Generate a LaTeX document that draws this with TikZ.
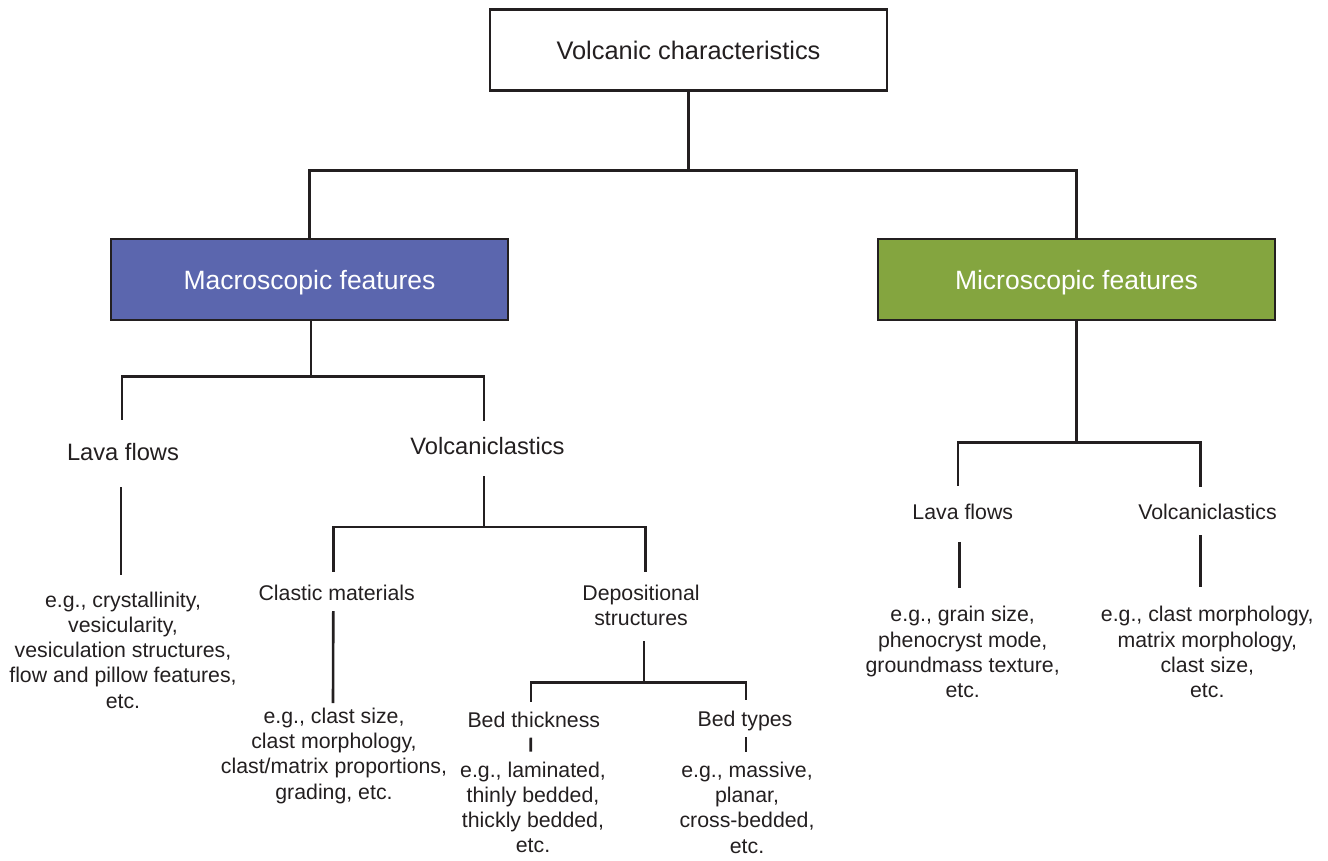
\documentclass[tikz,border=0pt]{standalone}
\usepackage{fontspec}
\setmainfont{Liberation Sans}
\definecolor{macroblue}{HTML}{5B66AE}
\definecolor{microgreen}{HTML}{84A53F}
\definecolor{inkgrey}{HTML}{231F20}
\tikzset{
  branch/.style={draw=inkgrey, line width=2.6pt},
  hbox/.style={draw=inkgrey, line width=2.7pt, minimum width=397pt, minimum height=81pt,
    inner sep=0pt, text height=19pt, text depth=0pt},
  lblM/.style={anchor=base, inner sep=0pt, text height=17pt, text depth=5pt,
    text=inkgrey, font=\fontsize{23.7}{28}\selectfont},
  lblS/.style={anchor=base, inner sep=0pt, text height=15.3pt, text depth=4.5pt,
    text=inkgrey, font=\fontsize{21.3}{25}\selectfont},
  eg/.style={anchor=north, inner sep=0pt, align=center, text=inkgrey,
    font=\fontsize{21.3}{25.3}\selectfont}
}
\begin{document}
\begin{tikzpicture}[x=1pt,y=-1pt]
  \useasboundingbox (0,0) rectangle (1328,860);
  % boxes
  \node[hbox, text height=18pt, text=inkgrey, font=\fontsize{25.4}{30}\selectfont] (vc) at (688.5,50) {Volcanic characteristics};
  \node[hbox, fill=macroblue, text=white, font=\fontsize{26.5}{31}\selectfont] (macro) at (309.5,279.5) {Macroscopic features};
  \node[hbox, fill=microgreen, text=white, font=\fontsize{26.5}{31}\selectfont] (micro) at (1076.5,279.5) {Microscopic features};

  % macroscopic side
  \node[lblM] (lfA) at (123,460) {Lava flows};
  \node[lblM] (vcA) at (487.5,454) {Volcaniclastics};
  \node[eg] (exA) at (123,591.4) {e.g., crystallinity,\\vesicularity,\\vesiculation structures,\\flow and pillow features,\\etc.};
  \node[lblS] (clA) at (336.7,600) {Clastic materials};
  \node[eg] (dsA) at (641,584.7) {Depositional\\structures};
  \node[eg] (exC) at (334,707.7) {e.g., clast size,\\clast morphology,\\clast/matrix proportions,\\grading, etc.};
  \node[lblS] (btA) at (533.8,727.3) {Bed thickness};
  \node[lblS] (byA) at (745,726) {Bed types};
  \node[eg] (exT) at (533,761.4) {e.g., laminated,\\thinly bedded,\\thickly bedded,\\etc.};
  \node[eg] (exY) at (747,761.7) {e.g., massive,\\planar,\\cross-bedded,\\etc.};

  % microscopic side
  \node[lblS] (lfB) at (962.8,519) {Lava flows};
  \node[lblS] (vcB) at (1207.5,519) {Volcaniclastics};
  \node[eg] (exL) at (962.7,606.2) {e.g., grain size,\\phenocryst mode,\\groundmass texture,\\etc.};
  \node[eg] (exV) at (1207.3,606.2) {e.g., clast morphology,\\matrix morphology,\\clast size,\\etc.};

  % branch points
  \coordinate (br0) at (688.5,170.5);
  \coordinate (br1) at (311,376.5);
  \coordinate (br2) at (484,527);
  \coordinate (br3) at (644,682.7);
  \coordinate (br4) at (1076.5,442.7);

  % connectors
  \draw[branch] (vc.south) -- (br0);
  \draw[branch] (macro.north) |- (br0) -| (micro.north);
  \draw[branch] ([xshift=1.5pt]macro.south) -- (br1);
  \draw[branch] ([xshift=-1pt,yshift=23pt]lfA.north) |- (br1) -| ([xshift=-3.5pt,yshift=16pt]vcA.north);
  \draw[branch] ([xshift=-2pt,yshift=-22pt]lfA.south) -- ([xshift=-2pt,yshift=16.4pt]exA.north);
  \draw[branch] ([xshift=-3.5pt,yshift=-17pt]vcA.south) -- (br2);
  \draw[branch] ([xshift=-3.4pt,yshift=12.7pt]clA.north) |- (br2) -| ([xshift=4.7pt,yshift=12.7pt]dsA.north);
  \draw[branch] ([xshift=-3.4pt,yshift=-6.5pt]clA.south) -- ([xshift=-1pt,yshift=4.7pt]exC.north);
  \draw[branch] ([xshift=3pt,yshift=-15pt]dsA.south) -- (br3);
  \draw[branch] ([xshift=-3pt,yshift=10.3pt]btA.north) |- (br3) -| ([xshift=1pt,yshift=10.7pt]byA.north);
  \draw[branch] ([xshift=-3pt,yshift=-5.5pt]btA.south) -- ([xshift=-2.3pt,yshift=9.7pt]exT.north);
  \draw[branch] ([xshift=1pt,yshift=-6.5pt]byA.south) -- ([xshift=-1pt,yshift=9.7pt]exY.north);
  \draw[branch] (micro.south) -- (br4);
  \draw[branch] ([xshift=-4.8pt,yshift=17.7pt]lfB.north) |- (br4) -| ([xshift=-6.8pt,yshift=17pt]vcB.north);
  \draw[branch] ([xshift=-3.5pt,yshift=-18.2pt]lfB.south) -- ([xshift=-3.4pt,yshift=18pt]exL.north);
  \draw[branch] ([xshift=-6.8pt,yshift=-11.5pt]vcB.south) -- ([xshift=-6.6pt,yshift=19.5pt]exV.north);
\end{tikzpicture}
\end{document}
